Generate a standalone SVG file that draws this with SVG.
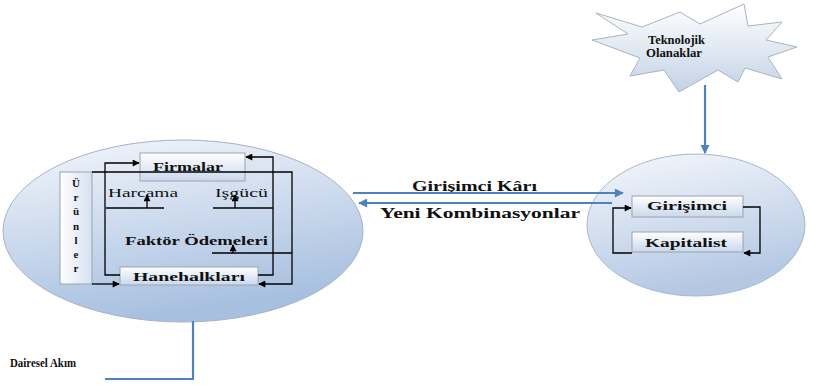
<svg xmlns="http://www.w3.org/2000/svg" width="813" height="385" viewBox="0 0 813 385">
<defs>
<linearGradient id="ell" x1="0" y1="0" x2="0.3" y2="1">
<stop offset="0" stop-color="#f4f7fc"/>
<stop offset="1" stop-color="#a8c0e0"/>
</linearGradient>
<linearGradient id="ell2" x1="0" y1="0" x2="0.3" y2="1">
<stop offset="0" stop-color="#f6f8fc"/>
<stop offset="1" stop-color="#b4c8e4"/>
</linearGradient>
<linearGradient id="box" x1="0" y1="0" x2="0" y2="1">
<stop offset="0" stop-color="#ffffff"/>
<stop offset="1" stop-color="#c9d8ec"/>
</linearGradient>
<linearGradient id="boxv" x1="0" y1="0" x2="1" y2="0">
<stop offset="0" stop-color="#ffffff"/>
<stop offset="1" stop-color="#d6e1f0"/>
</linearGradient>
<linearGradient id="star" x1="0" y1="0" x2="0" y2="1">
<stop offset="0" stop-color="#ffffff"/>
<stop offset="1" stop-color="#c3d2e6"/>
</linearGradient>
<marker id="ak" viewBox="0 0 10 10" refX="9" refY="5" markerWidth="9" markerHeight="7" markerUnits="userSpaceOnUse" orient="auto">
<path d="M0,0 L10,5 L0,10 z" fill="#000"/>
</marker>
<marker id="ab" viewBox="0 0 10 10" refX="9" refY="5" markerWidth="11" markerHeight="9" markerUnits="userSpaceOnUse" orient="auto">
<path d="M0,0 L10,5 L0,10 z" fill="#4f81bd"/>
</marker>
</defs>
<style>
text{fill:#111;font-family:"Liberation Serif","Times New Roman","DejaVu Serif",serif;}
.b{font-weight:bold;}
.bx{fill:url(#box);stroke:#9aa3ae;stroke-width:1;}
.k{fill:none;stroke:#000;stroke-width:1.3;}
.bl{fill:none;stroke:#4f81bd;stroke-width:2.2;}
</style>
<rect width="813" height="385" fill="#fff"/>

<g id="daireselAkim">
<ellipse cx="183" cy="231" rx="180" ry="91" fill="url(#ell)" stroke="#a3b3c9" stroke-width="1"/>
</g>
<g id="girisimciEllipse">
<ellipse cx="696" cy="225" rx="109" ry="71" fill="url(#ell2)" stroke="#a8b8cc" stroke-width="1"/>
</g>
<g id="teknolojik">
<polygon points="596,13 642,27 680,12 700,24 744,4 748,26 782,22 766,40 797,47 768,57 782,79 745,68 738,82 718,70 679,92 664,70 630,76 640,58 592,40 628,34" fill="url(#star)" stroke="#a9b4c2" stroke-width="1"/>
<text class="b" x="648" y="43.5" font-size="12.5" textLength="57" lengthAdjust="spacingAndGlyphs">Teknolojik</text>
<text class="b" x="646" y="56.5" font-size="12.5" textLength="56" lengthAdjust="spacingAndGlyphs">Olanaklar</text>
</g>

<g id="urunler">
<rect x="60" y="172" width="32" height="112" fill="url(#boxv)" stroke="#9aa3ae" stroke-width="1"/>
<text class="b" font-size="11" text-anchor="middle"><tspan x="76" y="187">Ü</tspan><tspan x="76" y="201">r</tspan><tspan x="76" y="215">ü</tspan><tspan x="76" y="230">n</tspan><tspan x="76" y="244">l</tspan><tspan x="76" y="258">e</tspan><tspan x="76" y="272">r</tspan></text>
</g>
<g id="firmalar">
<rect class="bx" x="140" y="153" width="105" height="28"/>
<text class="b" x="153" y="170.5" font-size="13" textLength="70" lengthAdjust="spacingAndGlyphs">Firmalar</text>
</g>
<g id="hanehalklari">
<rect class="bx" x="120" y="267" width="138" height="18"/>
<text class="b" x="133" y="280.5" font-size="13" textLength="112" lengthAdjust="spacingAndGlyphs">Hanehalkları</text>
</g>
<g id="girisimci">
<rect class="bx" x="632" y="196" width="111" height="21"/>
<text class="b" x="647" y="210" font-size="13" textLength="80" lengthAdjust="spacingAndGlyphs">Girişimci</text>
</g>
<g id="kapitalist">
<rect class="bx" x="632" y="232" width="111" height="20"/>
<text class="b" x="645" y="247" font-size="13" textLength="82" lengthAdjust="spacingAndGlyphs">Kapitalist</text>
</g>

<g id="labels">
<text x="108" y="197" font-size="12.5" textLength="70" lengthAdjust="spacingAndGlyphs">Harcama</text>
<text x="215" y="197" font-size="12.5" textLength="53" lengthAdjust="spacingAndGlyphs">Işgücü</text>
<text class="b" x="125" y="245" font-size="13" textLength="143" lengthAdjust="spacingAndGlyphs">Faktör Ödemeleri</text>
<text class="b" x="412" y="191" font-size="14" textLength="125" lengthAdjust="spacingAndGlyphs">Girişimci Kârı</text>
<text class="b" x="380" y="218" font-size="14" textLength="200" lengthAdjust="spacingAndGlyphs">Yeni Kombinasyonlar</text>
<text class="b" x="10" y="367" font-size="13.5" textLength="66" lengthAdjust="spacingAndGlyphs">Dairesel Akım</text>
</g>

<g id="connectors">
<polyline class="k" points="120,275 105,275 105,163 139,163" marker-end="url(#ak)"/>
<polyline class="k" points="258,275 273,275 273,157 246,157" marker-end="url(#ak)"/>
<polyline class="k" points="92,172 292,172 292,284 259,284" marker-end="url(#ak)"/>
<line class="k" x1="92" y1="284" x2="119" y2="284" marker-end="url(#ak)"/>
<line class="k" x1="106" y1="208" x2="164" y2="208"/>
<line class="k" x1="147" y1="208" x2="147" y2="195" marker-end="url(#ak)"/>
<line class="k" x1="213" y1="208" x2="273" y2="208"/>
<line class="k" x1="235" y1="208" x2="235" y2="195" marker-end="url(#ak)"/>
<line class="k" x1="212" y1="253" x2="292" y2="253"/>
<line class="k" x1="233" y1="253" x2="233" y2="245" marker-end="url(#ak)"/>
<polyline class="k" points="743,207 760,207 760,253 744,253" marker-end="url(#ak)"/>
<polyline class="k" points="632,253 613,253 613,208 631,208" marker-end="url(#ak)"/>
<line class="bl" x1="353" y1="193" x2="623" y2="193" marker-end="url(#ab)"/>
<line class="bl" x1="612" y1="203" x2="359" y2="203" marker-end="url(#ab)"/>
<line class="bl" x1="705" y1="85" x2="705" y2="153" stroke-width="3" marker-end="url(#ab)"/>
<polyline class="bl" points="193,321 193,379 105,379" stroke="#4a6fbe" stroke-width="2.6"/>
</g>
</svg>
